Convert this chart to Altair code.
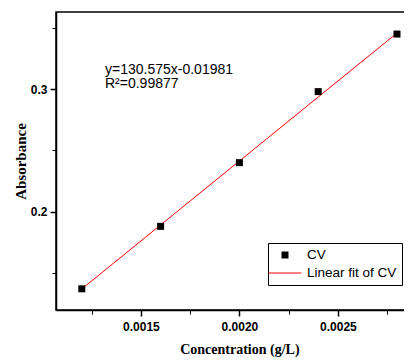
import altair as alt
import pandas as pd

# data
conc = [0.0012, 0.0016, 0.0020, 0.0024, 0.0028]
absorb = [0.137, 0.188, 0.240, 0.298, 0.345]
fit_x = [0.0012, 0.0028]
fit_y = [0.1369, 0.3458]
x_major = [0.0015, 0.0020, 0.0025]
x_minor = [0.00125, 0.00175, 0.00225, 0.00275]
y_major = [0.2, 0.3]
y_minor = [0.15, 0.25, 0.35]
series = ["CV", "Linear fit of CV"]
annot = ["y=130.575x-0.01981\nR²=0.99877"]

pts = pd.DataFrame({"x": conc, "y": absorb, "series": series[0]})
fit = pd.DataFrame({"x": fit_x, "y": fit_y, "series": series[1]})

xs = alt.Scale(domain=[0.001069, 0.002931], nice=False, zero=False)
ys = alt.Scale(domain=[0.1197, 0.363], nice=False, zero=False)

lab = dict(labelFont="Liberation Sans", labelFontWeight="bold", labelFontSize=12,
           labelColor="black", tickColor="black", domainColor="black",
           domainWidth=1.5, grid=False)

x_ax = alt.Axis(values=x_major, format=".4f", tickSize=6, tickWidth=1.5,
                labelPadding=5, title="Concentration (g/L)", titleFont="Liberation Serif",
                titleFontSize=14, titleFontWeight="bold", titleColor="black",
                titlePadding=10, orient="bottom", **lab)
y_ax = alt.Axis(values=y_major, format=".1f", tickSize=6, tickWidth=1.5,
                labelPadding=3, title="Absorbance", titleFont="Liberation Serif",
                titleFontSize=15, titleFontWeight="bold", titleColor="black",
                titlePadding=2, orient="left", **lab)
x_min_ax = alt.Axis(values=x_minor, labels=False, tickSize=4, tickWidth=1,
                    tickColor="black", domain=False, grid=False, title=None, orient="bottom")
y_min_ax = alt.Axis(values=y_minor, labels=False, tickSize=4, tickWidth=1,
                    tickColor="black", domain=False, grid=False, title=None, orient="left")

color_scale = alt.Scale(domain=series, range=["black", "red"])
shape_scale = alt.Scale(domain=series,
                        range=["M-0.5,-0.5H0.5V0.5H-0.5Z",
                               "M-2.35,-0.07H2.35V0.07H-2.35Z"])

legend = alt.Legend(
    title=None, orient="none", legendX=212, legendY=231,
    padding=5, strokeColor="black", fillColor="white",
    labelFont="Liberation Sans", labelFontSize=13.5, labelColor="black",
    symbolSize=196, rowPadding=4, labelOffset=15, symbolOffset=5,
    symbolStrokeWidth=0,
)

line = alt.Chart(fit).mark_line(color="red", strokeWidth=1).encode(
    x=alt.X("x:Q", scale=xs, axis=x_min_ax),
    y=alt.Y("y:Q", scale=ys, axis=y_min_ax),
    color=alt.Color("series:N", scale=color_scale, legend=legend),
)

points = alt.Chart(pts).mark_point(filled=True, opacity=1, size=196).encode(
    x=alt.X("x:Q", scale=xs, axis=x_ax),
    y=alt.Y("y:Q", scale=ys, axis=y_ax),
    color=alt.Color("series:N", scale=color_scale, legend=legend),
    shape=alt.Shape("series:N", scale=shape_scale, legend=legend),
)

txt = alt.Chart(pd.DataFrame({"t": annot})).mark_text(
    align="left", baseline="alphabetic", font="Liberation Sans", fontSize=14,
    color="black", lineBreak="\n", lineHeight=14.5
).encode(
    x=alt.value(49),
    y=alt.value(61.5),
    text="t:N",
)

chart = alt.layer(line, points, txt).resolve_axis(x="independent", y="independent").properties(
    width=366.8, height=298,
    autosize=alt.AutoSizeParams(type="none"),
    padding={"left": 48, "top": 4, "right": -18.8, "bottom": 49},
).configure_view(stroke="black", strokeWidth=1.5)

chart.save("out.html", embed_options={"renderer": "svg", "actions": False})
